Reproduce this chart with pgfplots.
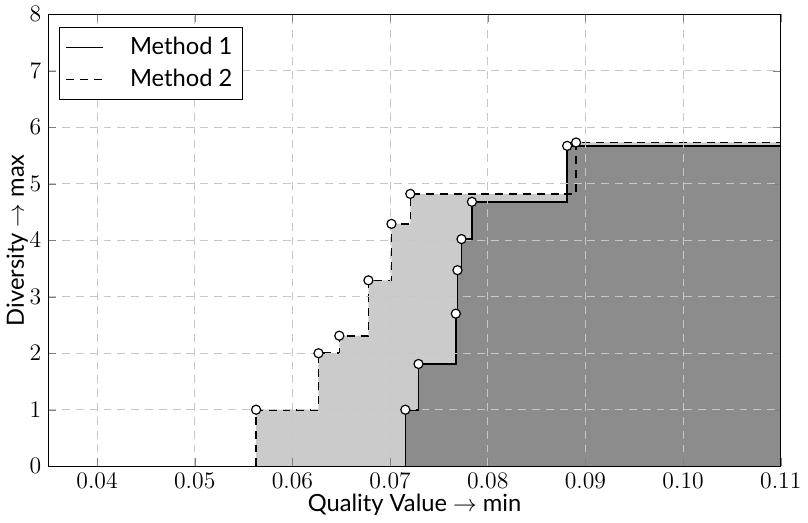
\documentclass[border=0pt]{standalone}
\usepackage{fontspec}
\setmainfont{Lato}
\usepackage{pgfplots}
\pgfplotsset{compat=1.18}
\definecolor{lightfill}{HTML}{CBCBCB}
\definecolor{darkfill}{HTML}{8C8C8C}

% step curves: first point on the x axis, last point at the right border
\pgfplotstableread{
x y
0.05628 0
0.05628 1.00
0.06267 2.00
0.06480 2.31
0.06778 3.29
0.07014 4.29
0.07207 4.82
0.08904 5.73
0.11 5.73
}\mtwo
\pgfplotstableread{
x y
0.07156 0
0.07156 1.00
0.07291 1.81
0.07673 2.70
0.07690 3.47
0.07731 4.02
0.07838 4.68
0.08813 5.67
0.11 5.67
}\mone
% the points themselves
\pgfplotstableread{
x y
0.05628 1.00
0.06267 2.00
0.06480 2.31
0.06778 3.29
0.07014 4.29
0.07207 4.82
0.08904 5.73
0.07156 1.00
0.07291 1.81
0.07673 2.70
0.07690 3.47
0.07731 4.02
0.07838 4.68
0.08813 5.67
}\pts

\begin{document}
\begin{tikzpicture}
\begin{axis}[width=369.5bp,height=228bp,scale only axis,
xmin=0.035,xmax=0.11,ymin=0,ymax=8,
xtick={0.04,0.05,0.06,0.07,0.08,0.09,0.10,0.11},
xticklabels={$0.04$,$0.05$,$0.06$,$0.07$,$0.08$,$0.09$,$0.10$,$0.11$},
ytick={0,1,...,8},
tick align=inside,major tick length=4pt,
grid=major,grid style={dash pattern=on 4pt off 3pt,black!22},
axis on top,
ticklabel style={font=\large},
label style={font=\large},
xlabel={Quality Value $\rightarrow$ min},
ylabel={Diversity $\rightarrow$ max},
xlabel style={yshift=4pt},ylabel style={yshift=-6pt},
legend style={at={(0.015,0.972)},anchor=north west,font=\large,
  draw=black,fill=white,inner sep=3pt,row sep=2pt},
legend cell align=left,
legend image code/.code={\draw[#1] (0.1cm,0cm) -- (0.75cm,0cm);
  \path (1.15cm,0cm);}]
\addplot[const plot,fill=lightfill,draw=none,forget plot] table[x=x,y=y]{\mtwo} \closedcycle;
\addplot[const plot,fill=darkfill,draw=none,forget plot] table[x=x,y=y]{\mone} \closedcycle;
\addplot[const plot,black,line width=0.8pt,mark=none] table[x=x,y=y]{\mone};
\addlegendentry{Method 1}
\addplot[const plot,black,dash pattern=on 4pt off 3pt,line width=0.8pt,mark=none] table[x=x,y=y]{\mtwo};
\addlegendentry{Method 2}
\addplot[only marks,mark=*,mark size=2.3pt,mark options={fill=white,draw=black,line width=0.6pt,solid},forget plot] table[x=x,y=y]{\pts};
\end{axis}
\end{tikzpicture}
\end{document}
